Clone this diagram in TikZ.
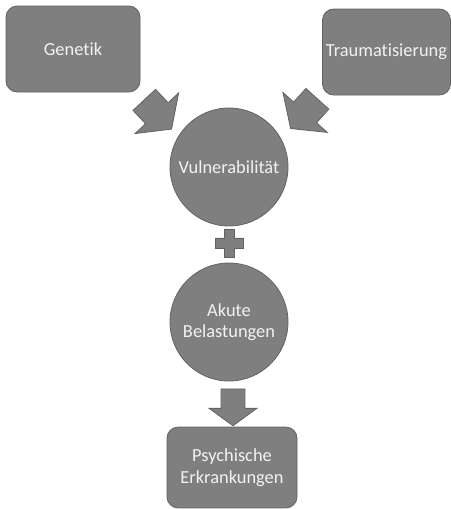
\documentclass[tikz,border=0pt]{standalone}
\usepackage{fontspec}
\setmainfont{Carlito}[Ligatures=NoCommon]
\usetikzlibrary{shapes.arrows, positioning, calc}

\definecolor{boxgray}{HTML}{7F7F7F}
\definecolor{linegray}{HTML}{626262}
\definecolor{textgray}{HTML}{F2F2F2}

\tikzset{
  blk/.style={draw=linegray, fill=boxgray, line width=0.5pt},
  box/.style={blk, rounded corners=7pt, text=textgray, align=center, inner sep=1pt,
              font=\fontsize{11.5}{13.5}\selectfont},
  ball/.style={blk, circle, minimum size=73.75pt, text=textgray, align=center, inner sep=1pt,
               font=\fontsize{11.5}{13.5}\selectfont},
  bigarrow/.style={blk, single arrow, inner xsep=0pt, inner ysep=9.4pt, single arrow head extend=9pt,
                   minimum height=25pt, single arrow tip angle=108},
  smallarrow/.style={bigarrow, inner ysep=7.2pt, single arrow head extend=7.5pt,
                     minimum height=23pt}
}

\begin{document}
\begin{tikzpicture}[x=0.625pt, y=-0.625pt]
    \useasboundingbox (0,0) rectangle (451,510);

    \node [box, minimum width=83.75pt, minimum height=53.75pt] (gen) at (73,49) {Genetik};
    \node [box, minimum width=80pt, minimum height=53.75pt] (trau) at (386.5,52) {Traumatisierung};
    \node [ball] (vul) at (229,167) {Vulnerabilität};
    \node [ball] (aku) at (229,322) {Akute\\Belastungen};
    \node [box, minimum width=81.25pt, minimum height=50.6pt] (psy) at (232,467.5) {Psychische\\Erkrankungen};

    % block arrows
    \node [bigarrow, rotate=-47] (a1) at ($(gen)!0.52!(vul)$) {};
    \node [bigarrow, rotate=-132] (a2) at ($(trau)!0.5!(vul)$) {};
    \node [smallarrow, rotate=-90] (a3) at (233,403) {};

    % plus between the two circles
    \coordinate (plus) at ($(vul)!0.49!(aku)$);
    \draw [blk] (plus) ++(-5,-14) -- ++(10,0) -- ++(0,9) -- ++(9,0) -- ++(0,10) -- ++(-9,0)
        -- ++(0,9) -- ++(-10,0) -- ++(0,-9) -- ++(-9,0) -- ++(0,-10) -- ++(9,0) -- cycle;
\end{tikzpicture}
\end{document}
